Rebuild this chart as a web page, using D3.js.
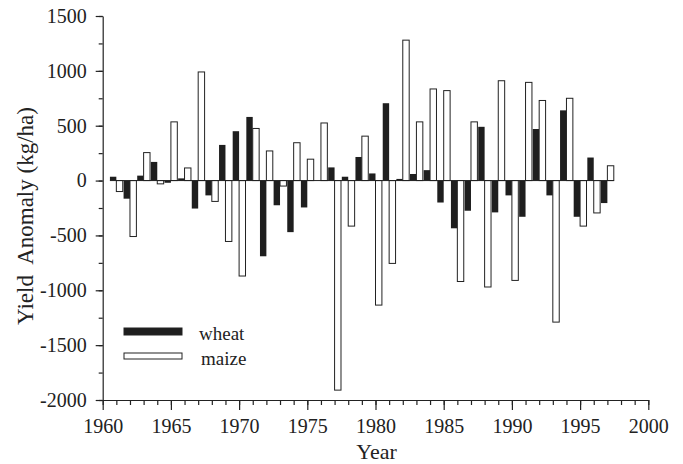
<!doctype html>
<html lang="en">
<head>
<meta charset="utf-8">
<title>Yield anomaly</title>
<script src="https://d3js.org/d3.v7.min.js"></script>
<style>
  body { margin: 0; background: #fff; }
  text { font-family: "Liberation Serif", "Times New Roman", serif; fill: #222; }
  .axis path, .axis line { stroke: #222; stroke-width: 1.2; }
</style>
</head>
<body>
<div id="chart"></div>
<script>
var years = d3.range(1961, 1998);
var wheat = [35, -165, 45, 170, -20, 20, -255, -135, 325, 450, 580, -690, -225, -470, -245, 0, 120, 35, 215, 65,
             705, 15, 60, 95, -200, -435, -275, 490, -290, -135, -330, 470, -135, 640, -330, 210, -205];
var maize = [-100, -510, 255, -30, 535, 115, 990, -190, -555, -870, 475, 270, -50, 345, 195, 525, -1910, -415, 405, -1135,
             -755, 1280, 535, 835, 820, -920, 535, -970, 910, -910, 895, 730, -1290, 750, -415, -295, 135];
var xTicks = [1960, 1965, 1970, 1975, 1980, 1985, 1990, 1995, 2000];
var yTicks = [1500, 1000, 500, 0, -500, -1000, -1500, -2000];
var seriesNames = ["wheat", "maize"];

var width = 683, height = 464;
var barW = 0.47;

var svg = d3.select("#chart").append("svg")
    .attr("width", width)
    .attr("height", height);

var x = d3.scaleLinear().domain([1960, 2000]).range([102.7, 648.3]);
var y = d3.scaleLinear().domain([-2000, 1500]).range([400, 16]);

// bars: wheat left of the year, maize right of it
svg.append("g").selectAll("rect")
    .data(years.map(function(d, i) { return {year: d, v: wheat[i]}; }))
  .enter().append("rect")
    .attr("x", function(d) { return x(d.year - barW); })
    .attr("width", x(1960 + barW) - x(1960))
    .attr("y", function(d) { return y(Math.max(0, d.v)); })
    .attr("height", function(d) { return Math.abs(y(d.v) - y(0)); })
    .attr("fill", "#1e1e1e");

svg.append("g").selectAll("rect")
    .data(years.map(function(d, i) { return {year: d, v: maize[i]}; }))
  .enter().append("rect")
    .attr("x", function(d) { return x(d.year); })
    .attr("width", x(1960 + barW) - x(1960))
    .attr("y", function(d) { return y(Math.max(0, d.v)); })
    .attr("height", function(d) { return Math.abs(y(d.v) - y(0)); })
    .attr("fill", "#fff")
    .attr("stroke", "#222")
    .attr("stroke-width", 1);

// zero line under the bars
svg.append("line")
    .attr("x1", x(years[0] - barW)).attr("x2", x(years[years.length - 1] + barW))
    .attr("y1", y(0)).attr("y2", y(0))
    .attr("stroke", "#222").attr("stroke-width", 1);

// plain hyphen for negatives, like the original
var plain = function(d) { return String(d); };

// axes, minor ticks first
svg.append("g").attr("class", "axis")
    .attr("transform", "translate(0," + y(-2000) + ")")
    .call(d3.axisBottom(x).tickValues(d3.range(1960, 2001)).tickSize(5).tickFormat(""))
    .call(function(g) { g.select(".domain").remove(); });
svg.append("g").attr("class", "axis")
    .attr("transform", "translate(0," + y(-2000) + ")")
    .call(d3.axisBottom(x).tickValues(xTicks).tickSize(10).tickSizeOuter(0).tickPadding(9).tickFormat(plain))
    .call(function(g) { g.selectAll("text").style("font-size", "20px"); });

svg.append("g").attr("class", "axis")
    .attr("transform", "translate(" + x(1960) + ",0)")
    .call(d3.axisLeft(y).tickValues(d3.range(-2000, 1501, 250)).tickSize(4).tickFormat(""))
    .call(function(g) { g.select(".domain").remove(); });
svg.append("g").attr("class", "axis")
    .attr("transform", "translate(" + x(1960) + ",0)")
    .call(d3.axisLeft(y).tickValues(yTicks).tickSize(7).tickSizeOuter(0).tickPadding(9).tickFormat(plain))
    .call(function(g) { g.selectAll("text").style("font-size", "20px"); });

// axis titles
svg.append("text")
    .attr("x", (x(1960) + x(2000)) / 2 + 1)
    .attr("y", 459)
    .attr("text-anchor", "middle")
    .style("font-size", "22px")
    .text("Year");

svg.append("text")
    .attr("transform", "translate(33," + 216 + ") rotate(-90)")
    .attr("text-anchor", "middle")
    .style("font-size", "23px")
    .style("white-space", "pre")
    .text("Yield  Anomaly (kg/ha)");

// legend
var legend = svg.append("g").selectAll("g")
    .data(seriesNames)
  .enter().append("g")
    .attr("transform", function(d, i) { return "translate(124," + (328 + i * 25) + ")"; });

legend.append("rect")
    .attr("width", 58).attr("height", function(d, i) { return i ? 6 : 7; })
    .attr("fill", function(d, i) { return i ? "#fff" : "#1e1e1e"; })
    .attr("stroke", "#222").attr("stroke-width", 1);

legend.append("text")
    .attr("x", function(d, i) { return i ? 77 : 75; })
    .attr("y", 12)
    .style("font-size", "19px")
    .text(function(d) { return d; });
</script>
</body>
</html>
